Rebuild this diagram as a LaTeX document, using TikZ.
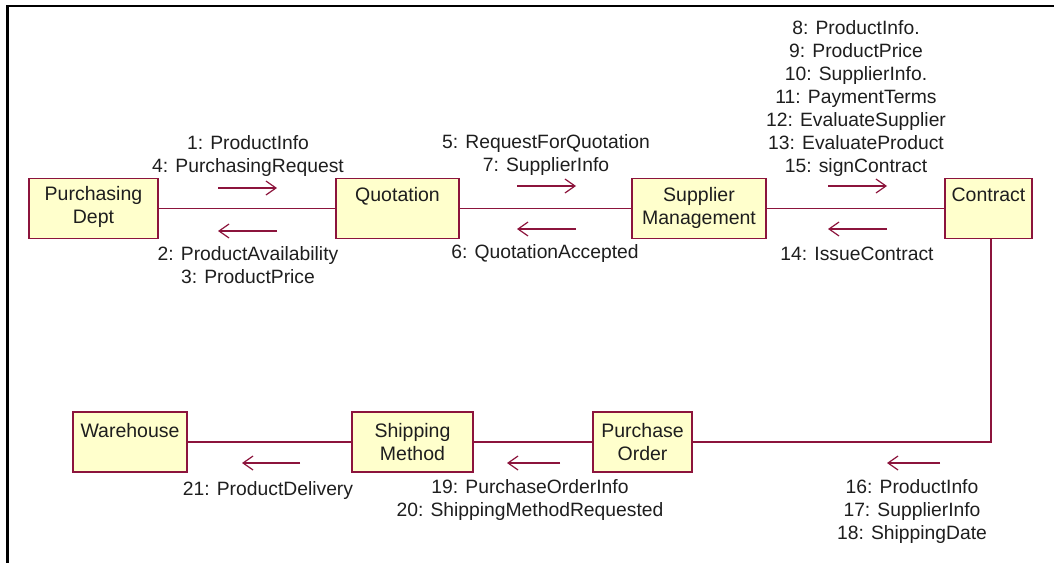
\documentclass[tikz,border=0pt]{standalone}
\usepackage{fontspec}
\setmainfont{Liberation Sans}
\usetikzlibrary{arrows.meta}
\definecolor{umlline}{RGB}{140,20,60}
\definecolor{umlfill}{RGB}{255,255,204}
\definecolor{txt}{RGB}{30,30,30}
\begin{document}
\begin{tikzpicture}[x=1pt,y=-1pt,
  box/.style={draw=umlline, fill=umlfill, line width=1.6pt, inner sep=0pt,
    minimum width=#1, minimum height=60pt},
  boxtext/.style={inner sep=0pt, anchor=base, align=center, text=txt,
    font=\fontsize{19.5}{23}\selectfont},
  lbl/.style={inner sep=0pt, anchor=base, align=center, text=txt,
    font=\fontsize{19.3}{23}\selectfont},
  conn/.style={draw=umlline, line width=1.6pt},
  msg/.style={draw=umlline, line width=1.4pt,
    -{Straight Barb[length=10pt,width=14pt,line width=1.2pt]}},
  frame/.style={draw=black, line width=2.5pt}
]
\useasboundingbox (0,0) rectangle (1054,563);
\draw[frame] (1054,6) -- (7.5,6) -- (7.5,563);

% boxes
\node[box=129pt] (pd) at (93.5,208.5) {};
\node[box=123pt] (q)  at (397.5,208.5) {};
\node[box=134pt] (sm) at (699,208.5) {};
\node[box=87pt]  (c)  at (988.5,208.5) {};
\node[box=114pt] (w)  at (130,442) {};
\node[box=121pt] (sh) at (412.5,442) {};
\node[box=99pt]  (po) at (642.5,442) {};

% box texts (anchor base = last line)
\node[boxtext] (pdt) at (93.5,223) {Purchasing\\Dept};
\node[boxtext] (qt)  at (397.5,201) {Quotation};
\node[boxtext] (smt) at (699,224) {Supplier\\Management};
\node[boxtext] (ct)  at (988.5,201) {Contract};
\node[boxtext] (wt)  at (130,437) {Warehouse};
\node[boxtext] (sht) at (412.5,460) {Shipping\\Method};
\node[boxtext] (pot) at (642.5,460) {Purchase\\Order};

% connectors
\draw[conn] (pd) -- (q);
\draw[conn] (q) -- (sm);
\draw[conn] (sm) -- (c);
\draw[conn] ([xshift=2.5pt]c.south) |- (po.east);
\draw[conn] (po) -- (sh);
\draw[conn] (sh) -- (w);

% message arrows
\coordinate (a1s) at (218,188); \coordinate (a1e) at (277,188);
\coordinate (a2s) at (277,231); \coordinate (a2e) at (218,231);
\coordinate (a3s) at (517,186); \coordinate (a3e) at (576,186);
\coordinate (a4s) at (576,229); \coordinate (a4e) at (517,229);
\coordinate (a5s) at (828,186); \coordinate (a5e) at (887,186);
\coordinate (a6s) at (887,229); \coordinate (a6e) at (828,229);
\coordinate (a7s) at (300,463); \coordinate (a7e) at (242,463);
\coordinate (a8s) at (560,463); \coordinate (a8e) at (507,463);
\coordinate (a9s) at (940,463); \coordinate (a9e) at (887,463);
\foreach \i in {1,...,9} \draw[msg] (a\i s) -- (a\i e);

% labels (anchor base = last line)
\node[lbl] (l1) at (248,172) {1: ProductInfo\\4: PurchasingRequest};
\node[lbl] (l2) at (248,283) {2: ProductAvailability\\3: ProductPrice};
\node[lbl] (l3) at (546,171) {5: RequestForQuotation\\7: SupplierInfo};
\node[lbl] (l4) at (545,258) {6: QuotationAccepted};
\node[lbl] (l5) at (856,172) {8: ProductInfo.\\9: ProductPrice\\10: SupplierInfo.\\11: PaymentTerms\\12: EvaluateSupplier\\13: EvaluateProduct\\15: signContract};
\node[lbl] (l6) at (857,260) {14: IssueContract};
\node[lbl] (l7) at (268,495) {21: ProductDelivery};
\node[lbl] (l8) at (530,516) {19: PurchaseOrderInfo\\20: ShippingMethodRequested};
\node[lbl] (l9) at (912,539) {16: ProductInfo\\17: SupplierInfo\\18: ShippingDate};
\end{tikzpicture}
\end{document}
